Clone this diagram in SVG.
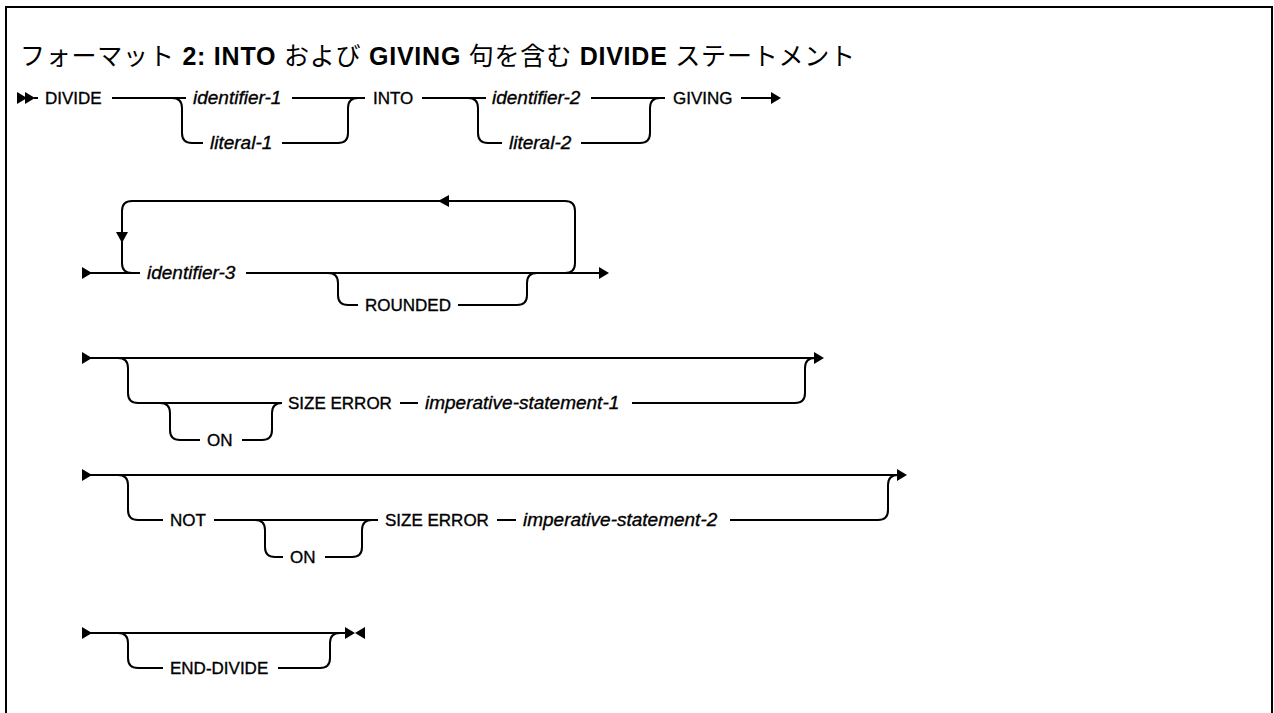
<svg xmlns="http://www.w3.org/2000/svg" width="1274" height="713" viewBox="0 0 1274 713">
  <style>
    .ln { fill: none; stroke: #000; stroke-width: 2; }
    .ah { fill: #000; stroke: none; }
    .kw { font-family: "Liberation Sans", Arial, sans-serif; font-size: 17px; fill: #000; stroke: #000; stroke-width: 0.35; }
    .var { font-family: "Liberation Sans", Arial, sans-serif; font-size: 19px; font-style: italic; fill: #000; stroke: #000; stroke-width: 0.35; }
    .title { font-family: "Liberation Sans", "Noto Sans CJK JP", sans-serif; font-size: 25px; font-weight: bold; fill: #000; }
    .jp { font-weight: normal; }
  </style>
  <defs>
    <polygon id="tri-r" points="0,-6 10,0 0,6"/>
  </defs>

  <rect x="0" y="0" width="1274" height="713" fill="#fff"/>
  <!-- frame: top, left, right edges -->
  <path class="ln" d="M6,713 V7 H1272 V713" stroke-width="2.5"/>

  <text id="title" class="title" x="20" y="65" textLength="835" lengthAdjust="spacing"><tspan class="jp">フォーマット</tspan> 2: INTO <tspan class="jp">および</tspan> GIVING <tspan class="jp">句を含む</tspan> DIVIDE <tspan class="jp">ステートメント</tspan></text>

  <g id="connectors">
    <!-- row 1 -->
    <path class="ln" d="M34,98 H38 M112,98 H186 M292,98 H365 M422,98 H486 M591,98 H665 M741,98 H772"/>
    <path class="ln" d="M172,98 Q182,98 182,108 V133 Q182,143 192,143 H203 M282,143 H338 Q348,143 348,133 V108 Q348,98 358,98"/>
    <path class="ln" d="M468,98 Q478,98 478,108 V133 Q478,143 488,143 H502 M581,143 H640 Q650,143 650,133 V108 Q650,98 660,98"/>
    <!-- row 2 -->
    <path class="ln" d="M90,273 H140 M246,273 H600"/>
    <path class="ln" d="M565,273 Q575,273 575,263 V211 Q575,201 565,201 H132 Q122,201 122,211 V263 Q122,273 132,273"/>
    <path class="ln" d="M328,273 Q338,273 338,283 V295 Q338,305 348,305 H358 M458,305 H517 Q527,305 527,295 V283 Q527,273 537,273"/>
    <!-- row 3 -->
    <path class="ln" d="M90,358 H815"/>
    <path class="ln" d="M118,358 Q128,358 128,368 V393 Q128,403 138,403 H281 M400,403 H418 M632,403 H795 Q805,403 805,393 V368 Q805,358 815,358"/>
    <path class="ln" d="M160,403 Q170,403 170,413 V430 Q170,440 180,440 H200 M242,440 H262 Q272,440 272,430 V413 Q272,403 282,403"/>
    <!-- row 4 -->
    <path class="ln" d="M90,475 H898"/>
    <path class="ln" d="M118,475 Q128,475 128,485 V510 Q128,520 138,520 H163 M214,520 H378 M497,520 H516 M730,520 H878 Q888,520 888,510 V485 Q888,475 898,475"/>
    <path class="ln" d="M255,520 Q265,520 265,530 V547 Q265,557 275,557 H283 M325,557 H352 Q362,557 362,547 V530 Q362,520 372,520"/>
    <!-- row 5 -->
    <path class="ln" d="M90,633 H345"/>
    <path class="ln" d="M118,633 Q128,633 128,643 V658 Q128,668 138,668 H163 M278,668 H320 Q330,668 330,658 V643 Q330,633 340,633"/>

    <!-- arrowheads -->
    <use href="#tri-r" class="ah" x="17" y="98"/>
    <use href="#tri-r" class="ah" x="25" y="98"/>
    <use href="#tri-r" class="ah" x="771" y="98"/>
    <use href="#tri-r" class="ah" x="82" y="273"/>
    <use href="#tri-r" class="ah" x="599" y="273"/>
    <polygon class="ah" points="438,201 449,195 449,207"/>
    <polygon class="ah" points="116,232 128,232 122,243"/>
    <use href="#tri-r" class="ah" x="82" y="358"/>
    <use href="#tri-r" class="ah" x="814" y="358"/>
    <use href="#tri-r" class="ah" x="82" y="475"/>
    <use href="#tri-r" class="ah" x="897" y="475"/>
    <use href="#tri-r" class="ah" x="82" y="633"/>
    <use href="#tri-r" class="ah" x="345" y="633"/>
    <polygon class="ah" points="365,627 355,633 365,639"/>
  </g>

  <g id="row1">
    <text class="kw" x="45" y="104">DIVIDE</text>
    <text class="var" x="193" y="104">identifier-1</text>
    <text class="var" x="210" y="149">literal-1</text>
    <text class="kw" x="373" y="104">INTO</text>
    <text class="var" x="492" y="104">identifier-2</text>
    <text class="var" x="509" y="149">literal-2</text>
    <text class="kw" x="673" y="104">GIVING</text>
  </g>
  <g id="row2">
    <text class="var" x="147" y="279">identifier-3</text>
    <text class="kw" x="365" y="311">ROUNDED</text>
  </g>
  <g id="row3">
    <text class="kw" x="207" y="446">ON</text>
    <text class="kw" x="288" y="409">SIZE ERROR</text>
    <text class="var" x="425" y="409">imperative-statement-1</text>
  </g>
  <g id="row4">
    <text class="kw" x="170" y="526">NOT</text>
    <text class="kw" x="290" y="563">ON</text>
    <text class="kw" x="385" y="526">SIZE ERROR</text>
    <text class="var" x="523" y="526">imperative-statement-2</text>
  </g>
  <g id="row5">
    <text class="kw" x="170" y="674">END-DIVIDE</text>
  </g>
</svg>
